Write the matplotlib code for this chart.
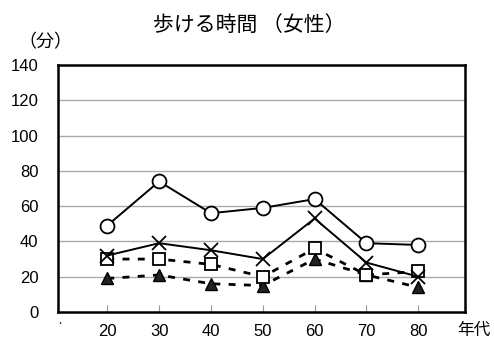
import matplotlib
matplotlib.use("Agg")
import matplotlib.pyplot as plt

plt.rcParams['font.family'] = ['Noto Sans CJK JP', 'DejaVu Sans']

categories = ["20", "30", "40", "50", "60", "70", "80"]
circle_vals = [49, 74, 56, 59, 64, 39, 38]
cross_vals = [32, 39, 35, 30, 53, 28, 20]
square_vals = [30, 30, 27, 20, 36, 21, 23]
triangle_vals = [19, 21, 16, 15, 30, 21, 14]
yticks = [0, 20, 40, 60, 80, 100, 120, 140]

fig = plt.figure(figsize=(4.94, 3.47), dpi=100)
ax = fig.add_axes([58/494, 1-312/347, (465-58)/494, (312-65)/347])

x = list(range(len(categories)))
ax.plot(x, circle_vals, color='black', lw=1.4, marker='o', ms=10,
        mfc='white', mec='black', mew=1.3, zorder=5)
ax.plot(x, cross_vals, color='black', lw=1.4, marker='x', ms=10,
        mew=1.3, zorder=4)
ax.plot(x, square_vals, color='black', lw=2, ls=(0, (2.5, 3)), marker='s', ms=9,
        mfc='white', mec='black', mew=1.3, zorder=3)
ax.plot(x, triangle_vals, color='black', lw=2, ls=(0, (2.5, 3)), marker='^', ms=8,
        mfc='#222222', mec='black', zorder=2)

ax.set_xlim(-0.95, 6.9)
ax.set_ylim(0, 140)
ax.set_yticks(yticks)
ax.set_yticklabels([str(v) for v in yticks], fontsize=12, family='Liberation Sans')
ax.set_xticks(x)
ax.set_xticklabels(categories, fontsize=12, family='Liberation Sans')
ax.tick_params(axis='y', length=0, pad=14)
ax.tick_params(axis='x', direction='in', length=5, color='#999999', pad=9)
for v in yticks[1:-1]:
    ax.axhline(v, color='#aaaaaa', lw=1, zorder=0)
for s in ax.spines.values():
    s.set_linewidth(1.8)
    s.set_color('black')

fig.text(249/494, 1-25/347, "歩ける時間 （女性）", fontsize=15, ha='center', va='center')
fig.text(45/494, 1-42/347, "（分）", fontsize=13, ha='center', va='center')
fig.text(474/494, 1-330/347, "年代", fontsize=12, ha='center', va='center')
fig.text(60/494, 1-321/347, ".", fontsize=8, ha='center', va='center')

fig.savefig("out.png", dpi=100, facecolor='white')
